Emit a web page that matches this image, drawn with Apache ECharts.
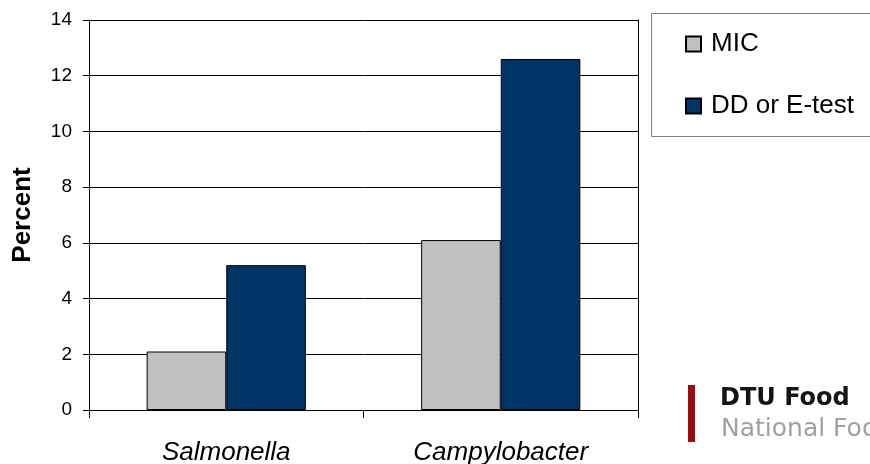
<!DOCTYPE html>
<html>
<head>
<meta charset="utf-8">
<style>
  html, body { margin: 0; padding: 0; background: #fff; }
  #chart { width: 870px; height: 464px; }
</style>
<script src="https://cdn.jsdelivr.net/npm/echarts@6/dist/echarts.min.js"></script>
</head>
<body>
<div id="chart"></div>
<script>
// Share of resistant isolates by test method
const categories = ['Salmonella', 'Campylobacter'];
const micValues = [2.1, 6.1];
const ddValues = [5.2, 12.6];
const seriesNames = ['MIC', 'DD or E-test'];
const yTicks = { min: 0, max: 14, step: 2 };

const chart = echarts.init(document.getElementById('chart'), null, { renderer: 'canvas' });

const FONT = 'Arial, "Liberation Sans", sans-serif';
const barBorder = { borderColor: '#000', borderWidth: 1 };

chart.setOption({
  animation: false,
  backgroundColor: '#fff',
  textStyle: { fontFamily: FONT },
  grid: { left: 89, top: 20, right: 232, bottom: 54, outerBoundsMode: 'none', containLabel: false },
  legend: {
    orient: 'vertical',
    left: 685,
    top: 31,
    padding: 0,
    itemWidth: 15,
    itemHeight: 15,
    itemGap: 36,
    icon: 'rect',
    textStyle: { fontSize: 26, color: '#000', lineHeight: 26, fontFamily: FONT, padding: [0, 0, 0, 5] },
    data: seriesNames
  },
  xAxis: {
    type: 'category',
    data: categories,
    axisLine: { lineStyle: { color: '#000', width: 1 } },
    axisTick: { show: true, length: 8, lineStyle: { color: '#000' } },
    axisLabel: {
      fontSize: 26,
      fontStyle: 'italic',
      color: '#000',
      margin: 30,
      fontFamily: FONT
    }
  },
  yAxis: [
    {
      type: 'value',
      min: yTicks.min,
      max: yTicks.max,
      interval: yTicks.step,
      name: 'Percent',
      nameLocation: 'middle',
      nameRotate: 90,
      nameGap: 53,
      nameTextStyle: { fontSize: 26, fontWeight: 'bold', color: '#000', fontFamily: FONT },
      axisLine: { show: true, lineStyle: { color: '#000', width: 1 } },
      axisTick: { show: true, length: 6, lineStyle: { color: '#000' } },
      axisLabel: { fontSize: 19, color: '#000', margin: 17, fontFamily: FONT },
      splitLine: { show: true, lineStyle: { color: '#000', width: 1 } }
    },
    {
      type: 'value',
      position: 'right',
      min: yTicks.min,
      max: yTicks.max,
      interval: yTicks.step,
      axisLine: { show: true, lineStyle: { color: '#000', width: 1 } },
      axisTick: { show: false },
      axisLabel: { show: false },
      splitLine: { show: false }
    }
  ],
  series: [
    {
      name: seriesNames[0],
      type: 'bar',
      data: micValues,
      barGap: '0%',
      barCategoryGap: '42%',
      itemStyle: Object.assign({ color: '#C0C0C0' }, barBorder)
    },
    {
      name: seriesNames[1],
      type: 'bar',
      data: ddValues,
      barGap: '0%',
      barCategoryGap: '42%',
      itemStyle: Object.assign({ color: '#003366' }, barBorder)
    }
  ],
  graphic: [
    {
      type: 'rect',
      z: 0,
      shape: { x: 651.5, y: 13.5, width: 240, height: 123 },
      style: { fill: '#fff', stroke: '#808080', lineWidth: 1 }
    },
    {
      type: 'rect',
      shape: { x: 688, y: 385, width: 7, height: 57 },
      style: { fill: '#9A0A0F' }
    },
    {
      type: 'text',
      x: 720,
      y: 399,
      style: {
        text: 'DTU Food',
        fontSize: 24,
        fontWeight: 'bold',
        fontFamily: '"DejaVu Sans", Verdana, sans-serif',
        fill: '#151515',
        verticalAlign: 'middle'
      }
    },
    {
      type: 'text',
      x: 721,
      y: 429,
      style: {
        text: 'National Food Institute',
        fontSize: 25,
        fontFamily: '"DejaVu Sans", Verdana, sans-serif',
        fill: '#a0a0a0',
        verticalAlign: 'middle'
      }
    }
  ]
});
</script>
</body>
</html>
